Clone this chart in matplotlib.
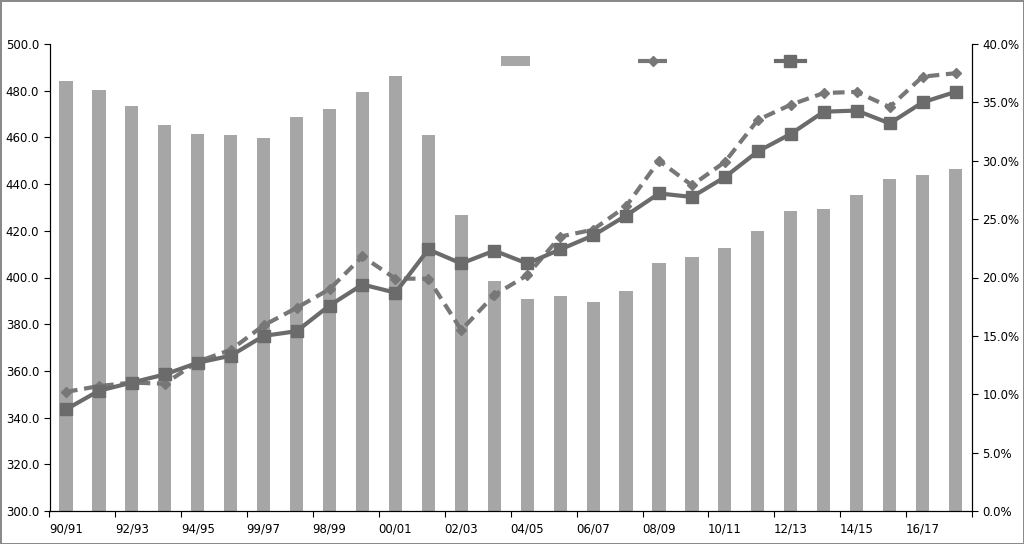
import numpy as np
import matplotlib
matplotlib.use("Agg")
import matplotlib.pyplot as plt
from matplotlib.ticker import FuncFormatter, MultipleLocator

# seasons 90/91 .. 17/18 (the source chart has the "99/97" typo)
seasons = ["90/91", "91/92", "92/93", "93/94", "94/95", "95/96", "99/97", "97/98",
           "98/99", "99/00", "00/01", "01/02", "02/03", "03/04", "04/05", "05/06",
           "06/07", "07/08", "08/09", "09/10", "10/11", "11/12", "12/13", "13/14",
           "14/15", "15/16", "16/17", "17/18"]

bars = [484.2, 480.3, 473.4, 465.3, 461.5, 461.0, 459.7, 468.7, 472.2, 479.4,
        486.3, 461.0, 426.8, 398.5, 390.8, 392.1, 389.5, 394.2, 406.2, 408.8,
        412.6, 419.9, 428.5, 429.3, 435.3, 442.2, 443.9, 446.5]

dashed_pct = [10.2, 10.7, 11.0, 10.9, 12.8, 13.8, 15.9, 17.4, 19.0, 21.8,
              19.9, 19.9, 15.5, 18.5, 20.2, 23.5, 24.1, 26.1, 30.0, 27.9,
              29.9, 33.5, 34.8, 35.8, 35.9, 34.6, 37.2, 37.5]

solid_pct = [8.7, 10.3, 11.0, 11.7, 12.7, 13.3, 15.0, 15.4, 17.6, 19.4,
             18.7, 22.4, 21.2, 22.3, 21.2, 22.4, 23.6, 25.3, 27.2, 26.9,
             28.6, 30.8, 32.3, 34.2, 34.3, 33.2, 35.0, 35.9]

x = np.arange(len(seasons))

fig = plt.figure(figsize=(10.24, 5.44), dpi=100)
fig.patch.set_edgecolor("#8a8a8a")
fig.patch.set_linewidth(2)
ax = fig.add_axes([49.5 / 1024, 1 - 511 / 544, (972 - 49.5) / 1024, (511 - 44) / 544])

bar_c = ax.bar(x, bars, width=0.4, color="#a6a6a6", zorder=2)
ax.set_ylim(300, 500)
ax.set_xlim(-0.5, len(seasons) - 0.5)
ax.yaxis.set_major_locator(MultipleLocator(20))
ax.yaxis.set_major_formatter(FuncFormatter(lambda v, p: f"{v:.1f}"))

# tick marks between category pairs, labels on every other category
ax.set_xticks(np.arange(-0.5, len(seasons), 2))
ax.set_xticklabels([])
ax.set_xticks(x[::2], minor=True)
ax.set_xticklabels(seasons[::2], minor=True)
ax.tick_params(axis="x", which="major", length=4, direction="out")
ax.tick_params(axis="x", which="minor", length=0, pad=8, labelsize=8.5)
ax.tick_params(axis="y", length=4, direction="out", labelsize=8.5)
ax.spines["top"].set_visible(False)

ax2 = ax.twinx()
ln1, = ax2.plot(x, dashed_pct, color="#777777", lw=3, linestyle=(0, (2.8, 1.6)),
                marker="D", markersize=5, zorder=3)
ln2, = ax2.plot(x, solid_pct, color="#6b6b6b", lw=3, marker="s", markersize=8, zorder=4)
ax2.set_ylim(0, 40)
ax2.yaxis.set_major_locator(MultipleLocator(5))
ax2.yaxis.set_major_formatter(FuncFormatter(lambda v, p: f"{v:.1f}%"))
ax2.tick_params(axis="y", length=4, direction="out", labelsize=8.5)
ax2.spines["top"].set_visible(False)

fig.legend([bar_c, ln1, ln2], ["", "", ""], ncol=3, frameon=False,
           loc="center", bbox_to_anchor=(0.643, 0.886), fontsize=10,
           handlelength=2.1, handletextpad=0.8, columnspacing=7.0)

fig.savefig("out.png", dpi=100)
